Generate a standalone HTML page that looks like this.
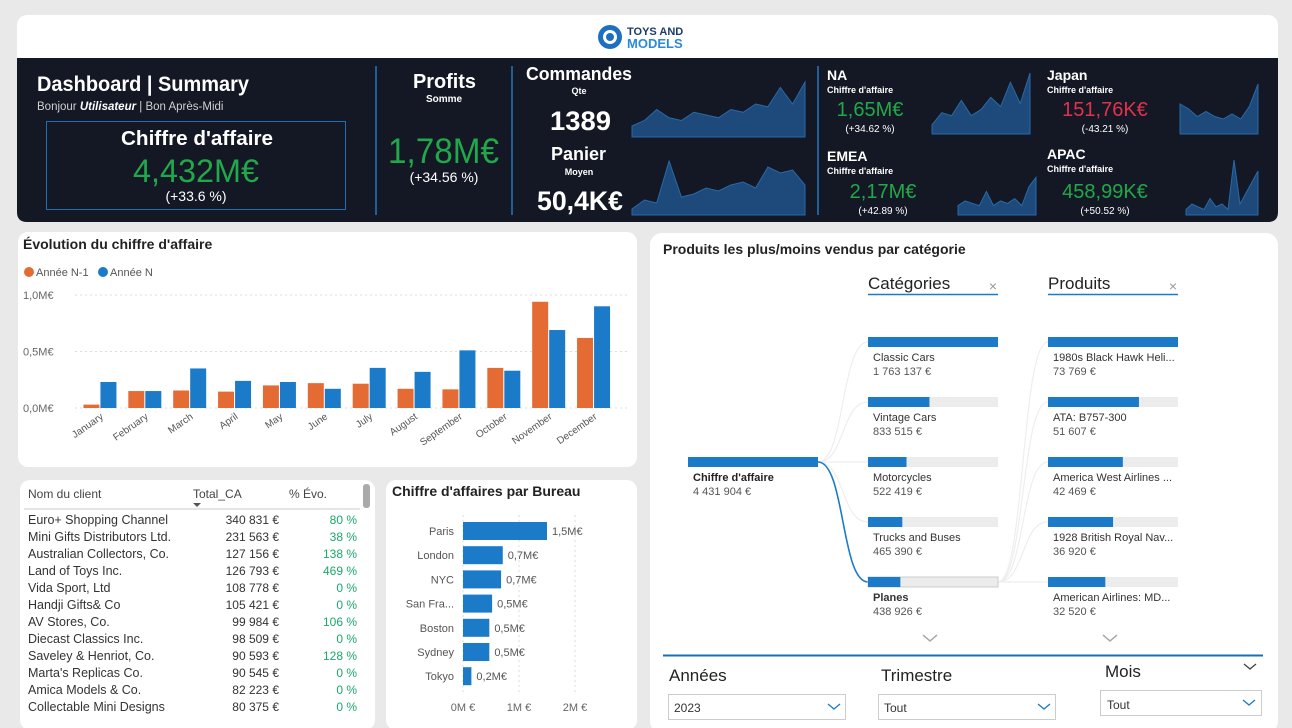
<!DOCTYPE html>
<html><head><meta charset="utf-8"><style>
html,body{margin:0;padding:0;background:#e9e9e9;}
svg{display:block;font-family:"Liberation Sans",sans-serif;}
</style></head><body>
<svg id="s" width="1292" height="728" viewBox="0 0 1292 728" xmlns="http://www.w3.org/2000/svg">
<rect x="0" y="0" width="1292" height="728" fill="#e9e9e9"/>
<!-- header -->
<g>
<rect x="17" y="15" width="1261" height="207" rx="10" fill="#ffffff"/>
<path d="M17 58 H1278 V212 Q1278 222 1268 222 H27 Q17 222 17 212 Z" fill="#141824"/>
<g>
<circle cx="610" cy="37" r="12" fill="#1f6fc0"/><circle cx="610" cy="37" r="7" fill="#fff"/><circle cx="610" cy="37" r="4" fill="#1f6fc0"/>
<text x="627" y="35" font-size="11" font-weight="bold" fill="#1c3a6e">TOYS AND</text>
<text x="627" y="48" font-size="13" font-weight="bold" fill="#2a8ad8">MODELS</text>
</g>
<text x="37" y="91" font-size="21" font-weight="bold" fill="#fff" textLength="212" lengthAdjust="spacingAndGlyphs">Dashboard | Summary</text>
<text x="37" y="110" font-size="11.5" fill="#d0d0d0">Bonjour <tspan font-style="italic" font-weight="bold" fill="#fff">Utilisateur</tspan> | Bon Après-Midi</text>
<rect x="46.5" y="121.5" width="299" height="88" fill="none" stroke="#1f6fb5"/>
<text x="121" y="145" font-size="20" font-weight="bold" fill="#fff" textLength="152" lengthAdjust="spacingAndGlyphs">Chiffre d'affaire</text>
<text x="133" y="182" font-size="32" fill="#21a84a" textLength="126" lengthAdjust="spacingAndGlyphs">4,432M€</text>
<text x="196" y="201" font-size="14" fill="#fff" text-anchor="middle">(+33.6 %)</text>
<line x1="376" y1="66" x2="376" y2="215" stroke="#1f5f9a" stroke-width="2"/>
<line x1="512" y1="66" x2="512" y2="215" stroke="#1f5f9a" stroke-width="2"/>
<line x1="818" y1="66" x2="818" y2="215" stroke="#1f5f9a" stroke-width="2"/>
<text x="413" y="88" font-size="20" font-weight="bold" fill="#fff" textLength="63" lengthAdjust="spacingAndGlyphs">Profits</text>
<text x="444" y="102" font-size="10" font-weight="bold" fill="#fff" text-anchor="middle">Somme</text>
<text x="388" y="163" font-size="35" fill="#21a84a" textLength="111" lengthAdjust="spacingAndGlyphs">1,78M€</text>
<text x="444" y="182" font-size="14" fill="#fff" text-anchor="middle">(+34.56 %)</text>
<text x="526" y="80" font-size="18" font-weight="bold" fill="#fff" textLength="106" lengthAdjust="spacingAndGlyphs">Commandes</text>
<text x="579" y="94" font-size="9" font-weight="bold" fill="#fff" text-anchor="middle">Qte</text>
<text x="550" y="130" font-size="27" font-weight="bold" fill="#fff" textLength="61" lengthAdjust="spacingAndGlyphs">1389</text>
<text x="551" y="160" font-size="18" font-weight="bold" fill="#fff" textLength="55" lengthAdjust="spacingAndGlyphs">Panier</text>
<text x="579" y="175" font-size="9" font-weight="bold" fill="#fff" text-anchor="middle">Moyen</text>
<text x="537" y="210" font-size="27" font-weight="bold" fill="#fff" textLength="86" lengthAdjust="spacingAndGlyphs">50,4K€</text>
<text x="827" y="80" font-size="14" font-weight="bold" fill="#fff">NA</text>
<text x="827" y="93" font-size="9" font-weight="bold" fill="#fff">Chiffre d'affaire</text>
<text x="870" y="116" font-size="20" fill="#21a84a" text-anchor="middle">1,65M€</text>
<text x="870" y="132" font-size="10" fill="#fff" text-anchor="middle">(+34.62 %)</text>
<text x="1047" y="80" font-size="14" font-weight="bold" fill="#fff">Japan</text>
<text x="1047" y="93" font-size="9" font-weight="bold" fill="#fff">Chiffre d'affaire</text>
<text x="1105" y="116" font-size="20" fill="#e0334a" text-anchor="middle">151,76K€</text>
<text x="1105" y="132" font-size="10" fill="#fff" text-anchor="middle">(-43.21 %)</text>
<text x="827" y="161" font-size="14" font-weight="bold" fill="#fff">EMEA</text>
<text x="827" y="174" font-size="9" font-weight="bold" fill="#fff">Chiffre d'affaire</text>
<text x="883" y="198" font-size="20" fill="#21a84a" text-anchor="middle">2,17M€</text>
<text x="883" y="214" font-size="10" fill="#fff" text-anchor="middle">(+42.89 %)</text>
<text x="1047" y="159" font-size="14" font-weight="bold" fill="#fff">APAC</text>
<text x="1047" y="172" font-size="9" font-weight="bold" fill="#fff">Chiffre d'affaire</text>
<text x="1105" y="198" font-size="20" fill="#21a84a" text-anchor="middle">458,99K€</text>
<text x="1105" y="214" font-size="10" fill="#fff" text-anchor="middle">(+50.52 %)</text>
<g id="sparks"></g>
</g>
<!-- cards -->
<rect x="18" y="232" width="619" height="235" rx="10" fill="#fff"/>
<rect x="20" y="480" width="355" height="250" rx="10" fill="#fff"/>
<rect x="386" y="480" width="251" height="250" rx="10" fill="#fff"/>
<rect x="650" y="233" width="628" height="500" rx="12" fill="#fff"/>
<!-- evolution chart -->
<text x="23" y="249" font-size="14" font-weight="bold" fill="#222">Évolution du chiffre d'affaire</text>
<circle cx="29" cy="272" r="5" fill="#e56b35"/>
<text x="36" y="276" font-size="11" fill="#555">Année N-1</text>
<circle cx="103" cy="272" r="5" fill="#1b7bc8"/>
<text x="110" y="276" font-size="11" fill="#555">Année N</text>
<g id="evo"></g>
<!-- clients table -->
<g id="tbl">
<text x="28" y="498" font-size="12" fill="#444">Nom du client</text>
<text x="193" y="498" font-size="12" fill="#444">Total_CA</text>
<path d="M193 503 l4 4 l4 -4 z" fill="#555"/>
<text x="289" y="498" font-size="12" fill="#444">% Évo.</text>
<line x1="24" y1="509" x2="360" y2="509" stroke="#ccc"/>
<rect x="363" y="484" width="7" height="24" rx="3" fill="#aaa"/>
</g>
<!-- bureau chart -->
<text x="392" y="496" font-size="14" font-weight="bold" fill="#222">Chiffre d'affaires par Bureau</text>
<g id="bur"></g>
<!-- decomposition tree -->
<text x="663" y="254" font-size="14" font-weight="bold" fill="#222">Produits les plus/moins vendus par catégorie</text>
<text x="868" y="289" font-size="17" fill="#222">Catégories</text>
<line x1="868" y1="294.5" x2="998" y2="294.5" stroke="#1b7bc8" stroke-width="1.5"/>
<text x="993" y="291" font-size="14" fill="#999" text-anchor="middle">×</text>
<text x="1048" y="289" font-size="17" fill="#222">Produits</text>
<line x1="1048" y1="294.5" x2="1178" y2="294.5" stroke="#1b7bc8" stroke-width="1.5"/>
<text x="1173" y="291" font-size="14" fill="#999" text-anchor="middle">×</text>
<g id="tree"></g>
<path d="M923 635 l7 6 l7 -6" fill="none" stroke="#aaa" stroke-width="1.5"/>
<path d="M1103 635 l7 6 l7 -6" fill="none" stroke="#aaa" stroke-width="1.5"/>
<!-- slicers -->
<line x1="663" y1="655.5" x2="1263" y2="655.5" stroke="#1b6fb5" stroke-width="2"/>
<text x="669" y="681" font-size="17" fill="#222">Années</text>
<rect x="668.5" y="694.5" width="177" height="25" fill="#fff" stroke="#ccc"/>
<text x="674" y="712" font-size="12" fill="#333">2023</text>
<path d="M828 704 l6 5 l6 -5" fill="none" stroke="#1b7bc8" stroke-width="1.3"/>
<text x="881" y="681" font-size="17" fill="#222">Trimestre</text>
<rect x="878.5" y="694.5" width="177" height="25" fill="#fff" stroke="#ccc"/>
<text x="884" y="712" font-size="12" fill="#333">Tout</text>
<path d="M1038 704 l6 5 l6 -5" fill="none" stroke="#1b7bc8" stroke-width="1.3"/>
<text x="1105" y="677" font-size="17" fill="#222">Mois</text>
<path d="M1244 664 l6 5 l6 -5" fill="none" stroke="#444" stroke-width="1.3"/>
<rect x="1100.5" y="690.5" width="161" height="25" fill="#fff" stroke="#ccc"/>
<text x="1107" y="709" font-size="12" fill="#333">Tout</text>
<path d="M1243 700 l6 5 l6 -5" fill="none" stroke="#1b7bc8" stroke-width="1.3"/>
</svg>
<script>
const NS="http://www.w3.org/2000/svg";
function mk(tag,attrs,parent,txt){const e=document.createElementNS(NS,tag);for(const k in attrs)e.setAttribute(k,attrs[k]);if(txt!==undefined)e.textContent=txt;parent.appendChild(e);return e;}

// ===== Evolution chart data =====
const months=["January","February","March","April","May","June","July","August","September","October","November","December"];
const prevYear=[0.03,0.15,0.155,0.145,0.2,0.22,0.215,0.17,0.165,0.355,0.94,0.62];
const currYear=[0.23,0.15,0.35,0.24,0.23,0.17,0.355,0.32,0.51,0.33,0.69,0.9];
const evoTicks=[0,0.5,1.0];
const evoTickLabels=["0,0M€","0,5M€","1,0M€"];

// ===== Sparklines =====
const sparkOrders=[0.2,0.3,0.5,0.35,0.3,0.45,0.4,0.35,0.5,0.45,0.6,0.55,0.9,0.6,1];
const sparkBasket=[0.1,0.25,0.2,0.9,0.3,0.35,0.45,0.4,0.5,0.55,0.45,0.8,0.7,0.75,0.5];
const sparkNA=[0.15,0.35,0.3,0.55,0.3,0.4,0.6,0.45,0.85,0.5,1];
const sparkJapan=[0.6,0.5,0.35,0.45,0.35,0.3,0.4,0.3,0.55,1];
const sparkEMEA=[0.2,0.3,0.25,0.2,0.5,0.2,0.3,0.25,0.35,0.2,0.6,0.8];
const sparkAPAC=[0.1,0.2,0.15,0.1,0.3,0.15,0.2,0.1,1,0.2,0.4,0.6,0.8];

// ===== Clients table =====
const clientNames=["Euro+ Shopping Channel","Mini Gifts Distributors Ltd.","Australian Collectors, Co.","Land of Toys Inc.","Vida Sport, Ltd","Handji Gifts& Co","AV Stores, Co.","Diecast Classics Inc.","Saveley & Henriot, Co.","Marta's Replicas Co.","Amica Models & Co.","Collectable Mini Designs"];
const clientCA=["340 831 €","231 563 €","127 156 €","126 793 €","108 778 €","105 421 €","99 984 €","98 509 €","90 593 €","90 545 €","82 223 €","80 375 €"];
const clientEvo=["80 %","38 %","138 %","469 %","0 %","0 %","106 %","0 %","128 %","0 %","0 %","0 %"];

// ===== Bureau chart =====
const bureaus=["Paris","London","NYC","San Fra...","Boston","Sydney","Tokyo"];
const bureauValues=[1.5,0.71,0.68,0.52,0.47,0.47,0.15];
const bureauLabels=["1,5M€","0,7M€","0,7M€","0,5M€","0,5M€","0,5M€","0,2M€"];
const bureauTicks=[0,1,2];
const bureauTickLabels=["0M €","1M €","2M €"];

// ===== Decomposition tree =====
const rootValue=4431904;
const rootLabel="4 431 904 €";
const categories=["Classic Cars","Vintage Cars","Motorcycles","Trucks and Buses","Planes"];
const categoryValues=[1763137,833515,522419,465390,438926];
const categoryLabels=["1 763 137 €","833 515 €","522 419 €","465 390 €","438 926 €"];
const products=["1980s Black Hawk Heli...","ATA: B757-300","America West Airlines ...","1928 British Royal Nav...","American Airlines: MD..."];
const productValues=[73769,51607,42469,36920,32520];
const productLabels=["73 769 €","51 607 €","42 469 €","36 920 €","32 520 €"];

// ---- draw evolution ----
(function(){
 const g=document.getElementById('evo');
 const x0=77.5,x1=616,y0=408,y1=295,vmax=1.0;
 const bw=(x1-x0)/months.length;
 const y=v=>y0-(v/vmax)*(y0-y1);
 evoTicks.forEach((t,i)=>{
  const l=mk('line',{x1:75,x2:627,y1:y(t),y2:y(t),stroke:'#ddd','stroke-dasharray':'2,3'},g);
  
  
  const tx=mk('text',{x:23,y:y(t)+4,'font-size':11,fill:'#666'},g,evoTickLabels[i]);
  
  
 });
 months.forEach((m,i)=>{
  const c=x0+bw*(i+0.5);
  const r1=mk('rect',{x:c-16.5,y:y(prevYear[i]),width:16,height:y0-y(prevYear[i]),fill:'#e56b35'},g);
  
  
  const r2=mk('rect',{x:c+0.5,y:y(currYear[i]),width:16,height:y0-y(currYear[i]),fill:'#1b7bc8'},g);
  
  
  const t=mk('text',{x:c+4,y:418,'font-size':10,fill:'#555','text-anchor':'end',transform:`rotate(-35 ${c+4} 418)`},g,m);
  
  
 });
})();

// ---- sparklines ----
(function(){
 const g=document.getElementById('sparks');
 function sp(data,x0,x1,yT,yB,name){
  const n=data.length;const pts=data.map((v,i)=>[x0+(x1-x0)*i/(n-1),yB-v*(yB-yT)]);
  const d='M'+x0+' '+yB+' '+pts.map(p=>'L'+p[0].toFixed(1)+' '+p[1].toFixed(1)).join(' ')+' L'+x1+' '+yB+' Z';
  const p=mk('path',{d:d,fill:'#1d4a7a',stroke:'#2769a8','stroke-width':1},g);
  
  
 }
 sp(sparkOrders,632,805,82,137,'sparkline-orders');
 sp(sparkBasket,632,805,155,215,'sparkline-basket');
 sp(sparkNA,932,1030,73,134,'sparkline-na');
 sp(sparkJapan,1180,1258,84,134,'sparkline-japan');
 sp(sparkEMEA,958,1036,168,215,'sparkline-emea');
 sp(sparkAPAC,1186,1258,160,215,'sparkline-apac');
})();

// ---- table ----
(function(){
 const g=document.getElementById('tbl');
 clientNames.forEach((n,i)=>{
  const yy=524+i*17;
  const a=mk('text',{x:28,y:yy,'font-size':12.5,fill:'#333'},g,n);
  
  
  const b=mk('text',{x:279,y:yy,'font-size':12,fill:'#333','text-anchor':'end'},g,clientCA[i]);
  
  
  const c=mk('text',{x:357,y:yy,'font-size':12,fill:'#1aa86a','text-anchor':'end'},g,clientEvo[i]);
  
  
 });
})();

// ---- bureau ----
(function(){
 const g=document.getElementById('bur');
 const x0=463,pxPerM=56,yStart=531,step=24.2;
 const x=v=>x0+v*pxPerM;
 bureauTicks.forEach((t,i)=>{
  const l=mk('line',{x1:x(t),x2:x(t),y1:515,y2:692,stroke:'#ddd','stroke-dasharray':'2,3'},g);
  
  
  const tx=mk('text',{x:x(t),y:711,'font-size':11,fill:'#666','text-anchor':'middle'},g,bureauTickLabels[i]);
  
  
 });
 bureaus.forEach((b,i)=>{
  const yc=yStart+i*step;
  const t=mk('text',{x:454,y:yc+4,'font-size':11,fill:'#555','text-anchor':'end'},g,b);
  
  
  const r=mk('rect',{x:x0,y:yc-9,width:x(bureauValues[i])-x0,height:18,fill:'#1b7bc8'},g);
  
  
  const v=mk('text',{x:x(bureauValues[i])+5,y:yc+4,'font-size':11,fill:'#555'},g,bureauLabels[i]);
  
  
 });
})();

// ---- tree ----
(function(){
 const g=document.getElementById('tree');
 const rowY=[337,397,457,517,577];const bh=10;
 rowY.forEach((yy,i)=>{
  const sel=i===4;
  const p=mk('path',{d:`M818 462 C845 462 841 ${yy+5} 868 ${yy+5}`,fill:'none',stroke:sel?'#1b7bc8':'#eee','stroke-width':sel?1.6:1.2},g);
  
  
  const q=mk('path',{d:`M998 582 C1025 582 1021 ${yy+5} 1048 ${yy+5}`,fill:'none',stroke:'#eee','stroke-width':1.2},g);
  
  
 });
 const rb=mk('rect',{x:688,y:457,width:130,height:bh,fill:'#1b7bc8'},g);
 
 
 const rl=mk('text',{x:693,y:481,'font-size':11,'font-weight':'bold',fill:'#222'},g,"Chiffre d'affaire");
 
 
 const rv=mk('text',{x:693,y:495,'font-size':11,fill:'#555'},g,rootLabel);
 
 
 const cmax=Math.max(...categoryValues),pmax=Math.max(...productValues);
 function node(x,yy,val,max,name,label,sel,dn){
  const bg=mk('rect',{x:x,y:yy,width:130,height:bh,fill:'#ececec',stroke:sel?'#ccc':'none'},g);
  
  
  const b=mk('rect',{x:x,y:yy,width:130*val/max,height:bh,fill:'#1b7bc8'},g);
  
  
  const t=mk('text',{x:x+5,y:yy+24,'font-size':11,fill:'#333','font-weight':sel?'bold':'normal'},g,name);
  
  
  const v=mk('text',{x:x+5,y:yy+38,'font-size':11,fill:'#555'},g,label);
  
  
 }
 categories.forEach((c,i)=>node(868,rowY[i],categoryValues[i],cmax,c,categoryLabels[i],i===4,'category'));
 products.forEach((p,i)=>node(1048,rowY[i],productValues[i],pmax,p,productLabels[i],false,'product'));
})();
</script>
</body></html>
